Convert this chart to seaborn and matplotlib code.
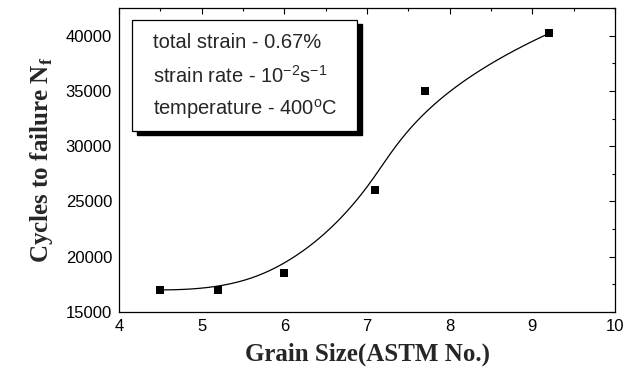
import numpy as np
import pandas as pd
import seaborn as sns
import matplotlib.pyplot as plt
from matplotlib.patches import Rectangle
from matplotlib.ticker import MultipleLocator

# measured points
grain_size = [4.5, 5.2, 6.0, 7.1, 7.7, 9.2]
cycles = [17000, 17000, 18500, 26000, 35000, 40200]

x_ticks = [4, 5, 6, 7, 8, 9, 10]
y_ticks = [15000, 20000, 25000, 30000, 35000, 40000]

info_lines = [
    r"total strain - 0.67%",
    r"strain rate - 10$^{\mathregular{-2}}$s$^{\mathregular{-1}}$",
    r"temperature - 400$^{\mathregular{o}}$C",
]


def bspline_curve(px, py, degree=3, n=300):
    # clamped B-spline using the data points as control points (Origin style)
    px = np.asarray(px, float)
    py = np.asarray(py, float)
    m = len(px)
    inner = np.linspace(0, 1, m - degree + 1)
    knots = np.concatenate([[0] * degree, inner, [1] * degree])
    t = np.linspace(0, 1, n)
    t[-1] = 1 - 1e-12

    def basis(i, k, t):
        if k == 0:
            return ((knots[i] <= t) & (t < knots[i + 1])).astype(float)
        out = np.zeros_like(t)
        d1 = knots[i + k] - knots[i]
        d2 = knots[i + k + 1] - knots[i + 1]
        if d1 > 0:
            out += (t - knots[i]) / d1 * basis(i, k - 1, t)
        if d2 > 0:
            out += (knots[i + k + 1] - t) / d2 * basis(i + 1, k - 1, t)
        return out

    B = np.array([basis(i, degree, t) for i in range(m)])
    return B.T @ px, B.T @ py


sns.set_style("white")
plt.rcParams["font.family"] = ["Liberation Sans", "DejaVu Sans"]
plt.rcParams["mathtext.fontset"] = "custom"
plt.rcParams["mathtext.rm"] = "Liberation Sans"

fig = plt.figure(figsize=(6.24, 3.73), dpi=100)
ax = fig.add_axes([0.1907, 0.1635, 0.7949, 0.815])

cx, cy = bspline_curve(grain_size, cycles)
curve = pd.DataFrame({"x": cx, "y": cy})
sns.lineplot(data=curve, x="x", y="y", ax=ax, color="black", lw=0.9,
             estimator=None, sort=False)
pts = pd.DataFrame({"x": grain_size, "y": cycles})
sns.scatterplot(data=pts, x="x", y="y", ax=ax, marker="s", s=38,
                color="black", edgecolor="black", linewidth=0, zorder=3)

ax.set_xlim(4, 10)
ax.set_ylim(15000, 42500)
ax.set_xticks(x_ticks)
ax.set_yticks(y_ticks)
ax.xaxis.set_minor_locator(MultipleLocator(0.5))
ax.yaxis.set_minor_locator(MultipleLocator(2500))
ax.tick_params(which="both", direction="in", top=True, right=True,
               labelsize=12, color="black", labelcolor="black")
ax.tick_params(which="major", length=4, width=0.8, pad=5)
ax.tick_params(which="minor", length=2.5, width=0.8)
for s in ax.spines.values():
    s.set_color("black")
    s.set_linewidth(0.9)

ax.set_xlabel("Grain Size(ASTM No.)", family="Liberation Serif",
              fontweight="bold", fontsize=18, labelpad=6)
ax.set_ylabel(r"Cycles to failure N$_\mathregular{f}$", family="Liberation Serif",
              fontweight="bold", fontsize=18, labelpad=8)

# info box with drop shadow
bx, by, bw, bh = 0.026, 0.595, 0.454, 0.366
ax.add_patch(Rectangle((bx + 0.01, by - 0.014), bw, bh, transform=ax.transAxes,
                       facecolor="black", edgecolor="black", zorder=4))
ax.add_patch(Rectangle((bx, by), bw, bh, transform=ax.transAxes,
                       facecolor="white", edgecolor="black", lw=0.9, zorder=5))
for line, yy in zip(info_lines, [0.888, 0.776, 0.668]):
    ax.text(0.0685, yy, line, transform=ax.transAxes, fontsize=14.5,
            va="center", ha="left", zorder=6)

fig.savefig("out.png", dpi=100)
